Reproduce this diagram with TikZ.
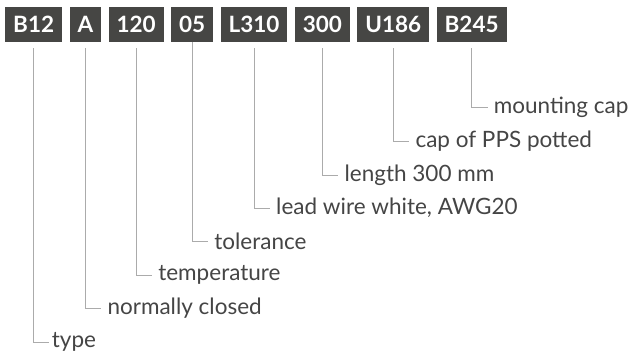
\documentclass[tikz,border=0pt]{standalone}
\usepackage{fontspec}
\setmainfont{Lato}
\usepackage{tikz}
\usetikzlibrary{positioning}

\definecolor{boxgrey}{HTML}{464644}
\definecolor{textgrey}{HTML}{454545}
\definecolor{linegrey}{HTML}{ABABAB}

\tikzset{
  codebox/.style={fill=boxgrey, text=white, font=\fontsize{22.5}{27}\selectfont\bfseries,
    minimum height=35pt, inner xsep=8pt, inner ysep=0pt},
  codelabel/.style={anchor=west, text=textgrey, inner sep=0pt,
    font=\fontsize{22.5}{26}\selectfont},
  leader/.style={draw=linegrey, line width=1pt}
}

\begin{document}
\begin{tikzpicture}[x=1pt, y=-1pt]
      \useasboundingbox (0,0) rectangle (633,354);

      % Code boxes
      \node[codebox, anchor=west] (b12) at (5,24.5) {B12};
      \node[codebox, right=7pt of b12] (a) {A};
      \node[codebox, right=7pt of a] (temp) {120};
      \node[codebox, right=7pt of temp] (tol) {05};
      \node[codebox, right=7pt of tol] (lead) {L310};
      \node[codebox, right=7pt of lead] (len) {300};
      \node[codebox, right=7pt of len] (cap) {U186};
      \node[codebox, right=7pt of cap] (mount) {B245};

      % Labels
      \node[codelabel] (mountlbl) at ([xshift=22pt]mount.south |- 0,107) {mounting cap};
      \node[codelabel] (caplbl) at ([xshift=22pt]cap.south |- 0,141) {cap of PPS potted};
      \node[codelabel] (lenlbl) at ([xshift=22pt]len.south |- 0,175) {length 300 mm};
      \node[codelabel] (leadlbl) at ([xshift=22pt]lead.south |- 0,208) {lead wire white, AWG20};
      \node[codelabel] (tollbl) at ([xshift=22pt]tol.south |- 0,241) {tolerance};
      \node[codelabel] (templbl) at ([xshift=22pt]temp.south |- 0,275) {temperature};
      \node[codelabel] (albl) at ([xshift=22pt]a.south |- 0,308) {normally closed};
      \node[codelabel] (b12lbl) at ([xshift=18pt]b12.south |- 0,342) {type};

      % Leader lines
      \draw[leader] ([yshift=-6pt]mount.south) |- ([xshift=-6pt]mountlbl.west);
      \draw[leader] ([yshift=-6pt]cap.south) |- ([xshift=-6pt]caplbl.west);
      \draw[leader] ([yshift=-6pt]len.south) |- ([xshift=-6pt]lenlbl.west);
      \draw[leader] ([yshift=-6pt]lead.south) |- ([xshift=-6pt]leadlbl.west);
      \draw[leader] (tol.south) |- ([xshift=-6pt]tollbl.west);
      \draw[leader] ([yshift=-6pt]temp.south) |- ([xshift=-6pt]templbl.west);
      \draw[leader] ([yshift=-6pt]a.south) |- ([xshift=-6pt]albl.west);
      \draw[leader] ([yshift=-6pt]b12.south) |- ([xshift=-3pt]b12lbl.west);
\end{tikzpicture}
\end{document}
